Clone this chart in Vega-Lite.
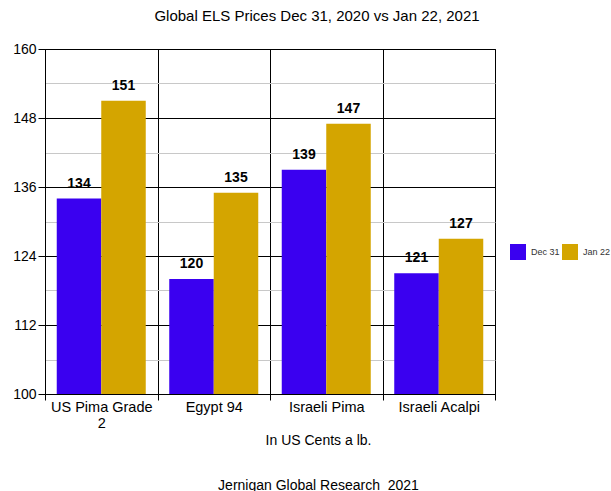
{
  "$schema": "https://vega.github.io/schema/vega-lite/v6.json",
  "width": 450,
  "height": 345,
  "autosize": {"type": "none"},
  "padding": {"left": 45, "top": 49, "right": 116, "bottom": 97},
  "background": "white",
  "config": {
    "font": "Liberation Sans",
    "view": {"stroke": "black", "strokeWidth": 1}
  },
  "title": {
    "text": "Global ELS Prices Dec 31, 2020 vs Jan 22, 2021",
    "fontSize": 15,
    "font": "Liberation Sans",
    "fontWeight": "normal",
    "color": "black",
    "dx": 47,
    "offset": 18
  },
  "data": {
    "values": [
      {"grade": "US Pima Grade 2", "date": "Dec 31", "price": 134},
      {"grade": "US Pima Grade 2", "date": "Jan 22", "price": 151},
      {"grade": "Egypt 94", "date": "Dec 31", "price": 120},
      {"grade": "Egypt 94", "date": "Jan 22", "price": 135},
      {"grade": "Israeli Pima", "date": "Dec 31", "price": 139},
      {"grade": "Israeli Pima", "date": "Jan 22", "price": 147},
      {"grade": "Israeli Acalpi", "date": "Dec 31", "price": 121},
      {"grade": "Israeli Acalpi", "date": "Jan 22", "price": 127}
    ]
  },
  "encoding": {
    "x": {
      "field": "grade",
      "type": "nominal",
      "sort": ["US Pima Grade 2", "Egypt 94", "Israeli Pima", "Israeli Acalpi"],
      "scale": {"paddingInner": 0, "paddingOuter": 0},
      "axis": {
        "labelAngle": 0,
        "labelFontSize": 14.5,
        "labelColor": "black",
        "labelPadding": 0,
        "labelExpr": "datum.label == 'US Pima Grade 2' ? ['US Pima Grade', '2'] : datum.label",
        "labelLineHeight": 16,
        "grid": true,
        "gridColor": "black",
        "gridOpacity": 1,
        "tickBand": "extent",
        "tickColor": "black",
        "tickSize": 6,
        "domainColor": "black",
        "title": ["In US Cents a lb.", "Jernigan Global Research\u00a0\u00a02021"],
        "titleFontSize": 14,
        "titleFontWeight": "normal",
        "titleColor": "black",
        "titleLineHeight": 45,
        "titleX": 273,
        "titleY": 39,
        "titleAlign": "center",
        "titleBaseline": "top"
      }
    },
    "xOffset": {
      "field": "date",
      "sort": ["Dec 31", "Jan 22"],
      "scale": {"paddingInner": 0, "paddingOuter": 0.264}
    },
    "y": {
      "field": "price",
      "type": "quantitative",
      "scale": {"domain": [100, 160], "nice": false, "zero": false},
      "axis": {
        "values": [100, 106, 112, 118, 124, 130, 136, 142, 148, 154, 160],
        "labelExpr": "(datum.value - 100) % 12 === 0 ? datum.label : ''",
        "labelFontSize": 14,
        "labelColor": "black",
        "labelPadding": 2,
        "grid": true,
        "gridOpacity": 1,
        "gridColor": {"condition": {"test": "(datum.value - 100) % 12 === 0", "value": "black"}, "value": "#c8c8c8"},
        "tickColor": {"condition": {"test": "(datum.value - 100) % 12 === 0", "value": "black"}, "value": "transparent"},
        "tickSize": 7,
        "domainColor": "black",
        "title": null
      }
    }
  },
  "layer": [
    {
      "mark": {"type": "bar", "clip": true},
      "encoding": {
        "color": {
          "field": "date",
          "type": "nominal",
          "sort": ["Dec 31", "Jan 22"],
          "scale": {"domain": ["Dec 31", "Jan 22"], "range": ["#3a00f0", "#d4a500"]},
          "legend": {
            "title": null,
            "orient": "none",
            "legendX": 465,
            "legendY": 195,
            "direction": "horizontal",
            "symbolType": "square",
            "symbolSize": 256,
            "symbolStrokeWidth": 0,
            "labelFontSize": 9,
            "labelColor": "#333333",
            "labelOffset": 5,
            "columnPadding": 2
          }
        }
      }
    },
    {
      "mark": {"type": "text", "dy": -8, "baseline": "bottom", "fontSize": 14, "fontWeight": "bold", "color": "black"},
      "encoding": {
        "text": {"field": "price", "type": "quantitative"}
      }
    }
  ]
}
